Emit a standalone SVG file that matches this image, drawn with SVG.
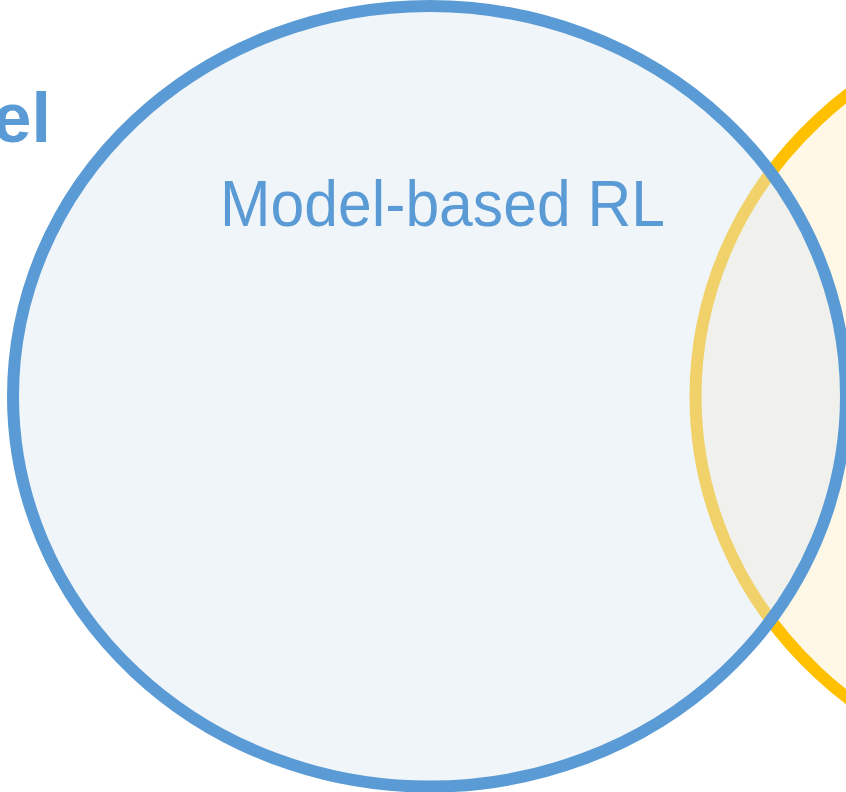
<svg xmlns="http://www.w3.org/2000/svg" width="846" height="792" viewBox="0 0 846 792">
  <style>
    .blue-stroke { fill: none; stroke: #5B9BD5; stroke-width: 12; }
    .blue-fill { fill: #DDE8F4; fill-opacity: 0.435; stroke: none; }
    .yellow { fill: #FFF8E6; stroke: #FFC000; stroke-width: 12; }
    .label { fill: #5B9BD5; font-family: "Liberation Sans", "DejaVu Sans", sans-serif; }
  </style>
  <rect width="846" height="792" fill="#FFFFFF"/>
  <g id="model-free-circle">
    <ellipse class="yellow" cx="1112" cy="396.3" rx="416.5" ry="390.3"/>
  </g>
  <g id="model-based-circle">
    <ellipse class="blue-fill" cx="429.5" cy="396.3" rx="416.5" ry="390.3"/>
    <ellipse class="blue-stroke" cx="429.5" cy="396.3" rx="416.5" ry="390.3"/>
    <text class="label" x="220" y="226" font-size="65" textLength="445" lengthAdjust="spacingAndGlyphs">Model-based RL</text>
  </g>
  <g id="cropped-label">
    <text class="label" x="51" y="141.5" font-size="70" font-weight="bold" text-anchor="end">el</text>
  </g>
</svg>
